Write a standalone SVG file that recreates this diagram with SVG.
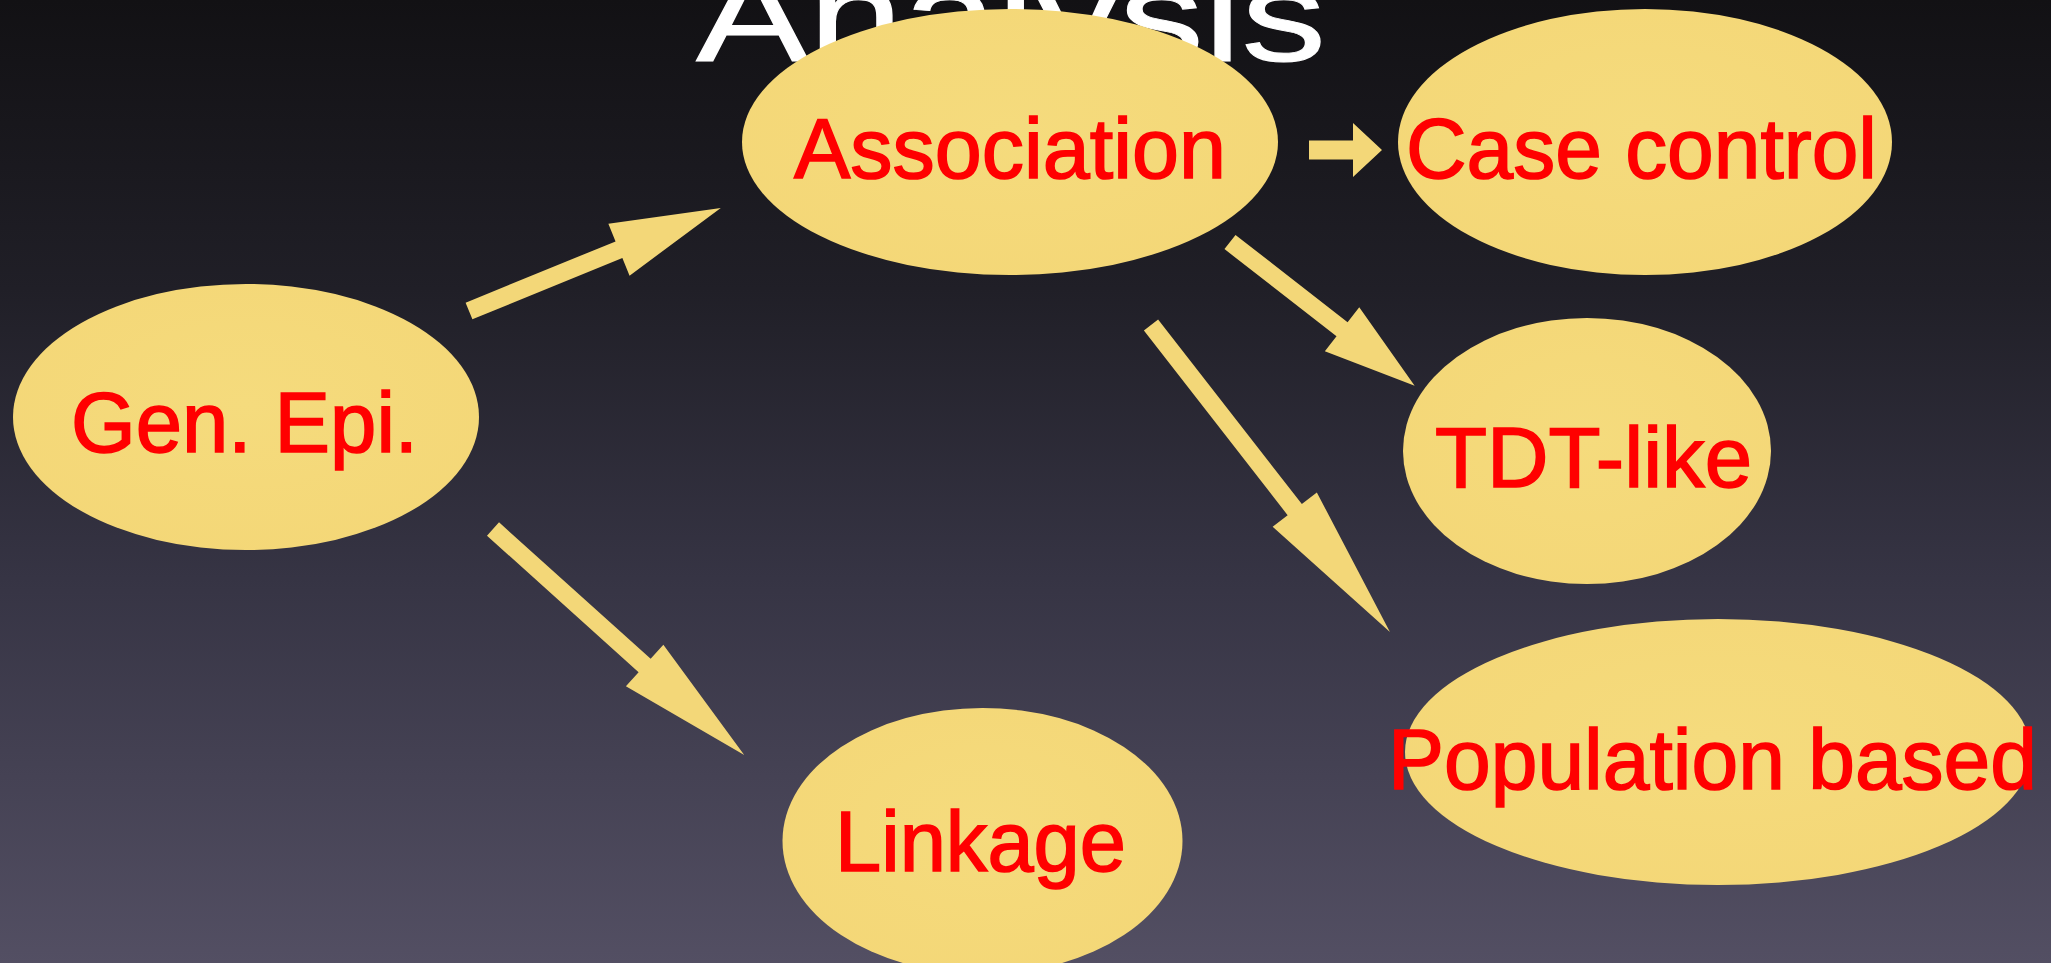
<svg xmlns="http://www.w3.org/2000/svg" width="2051" height="963" viewBox="0 0 2051 963">
  <defs>
    <linearGradient id="bg" x1="0" y1="0" x2="0" y2="1">
      <stop offset="0" stop-color="#121114"/>
      <stop offset="0.3" stop-color="#201f27"/>
      <stop offset="0.6" stop-color="#363444"/>
      <stop offset="1" stop-color="#534f63"/>
    </linearGradient>
    <radialGradient id="paper" cx="0.5" cy="0.45" r="0.6">
      <stop offset="0" stop-color="#f5db7d"/>
      <stop offset="1" stop-color="#f4d777"/>
    </radialGradient>
    <style>
      .node ellipse { fill: url(#paper); }
      .label { font-family: "Liberation Sans", Arial, sans-serif; font-size: 86px; fill: #ff0000; stroke: #ff0000; stroke-width: 1.6px; text-anchor: middle; }
      .title { font-family: "Liberation Sans", Arial, sans-serif; font-size: 130px; fill: #ffffff; stroke: #ffffff; stroke-width: 1px; }
      .arrow { fill: #f3d778; }
    </style>
  </defs>

  <rect x="0" y="0" width="2051" height="963" fill="url(#bg)"/>

  <text class="title" x="696" y="61" textLength="630" lengthAdjust="spacingAndGlyphs">Analysis</text>

  <!-- block arrows: tail at origin, pointing along +x -->
  <g id="connectors">
    <polygon class="arrow" transform="translate(469,311) rotate(-22.23)" points="0,-9 162,-9 162,-28 272,0 162,28 162,9 0,9"/>
    <polygon class="arrow" transform="translate(493,529) rotate(41.99)" points="0,-9 204,-9 204,-28 338,0 204,28 204,9 0,9"/>
    <polygon class="arrow" transform="translate(1309,150)" points="0,-9.5 44,-9.5 44,-27 73,0 44,27 44,9.5 0,9.5"/>
    <polygon class="arrow" transform="translate(1230,242) rotate(37.9)" points="0,-9 142,-9 142,-28 234,0 142,28 142,9 0,9"/>
    <polygon class="arrow" transform="translate(1151,325) rotate(52.1)" points="0,-9 234,-9 234,-28 389,0 234,28 234,9 0,9"/>
  </g>

  <g id="gen-epi" class="node">
    <ellipse cx="246" cy="417" rx="233" ry="133"/>
    <text class="label" x="244.5" y="452" textLength="347" lengthAdjust="spacingAndGlyphs">Gen. Epi.</text>
  </g>

  <g id="association" class="node">
    <ellipse cx="1010" cy="142" rx="268" ry="133"/>
    <text class="label" x="1010" y="178" textLength="432" lengthAdjust="spacingAndGlyphs">Association</text>
  </g>

  <g id="case-control" class="node">
    <ellipse cx="1645" cy="142" rx="247" ry="133"/>
    <text class="label" x="1641.5" y="178" textLength="471" lengthAdjust="spacingAndGlyphs">Case control</text>
  </g>

  <g id="tdt-like" class="node">
    <ellipse cx="1587" cy="451" rx="184" ry="133"/>
    <text class="label" x="1593.5" y="487" textLength="317" lengthAdjust="spacingAndGlyphs">TDT-like</text>
  </g>

  <g id="population-based" class="node">
    <ellipse cx="1718" cy="752" rx="313" ry="133"/>
    <text class="label" x="1712.5" y="789" textLength="649" lengthAdjust="spacingAndGlyphs">Population based</text>
  </g>

  <g id="linkage" class="node">
    <ellipse cx="982.5" cy="841" rx="200" ry="133"/>
    <text class="label" x="980.5" y="871" textLength="291" lengthAdjust="spacingAndGlyphs">Linkage</text>
  </g>
</svg>
